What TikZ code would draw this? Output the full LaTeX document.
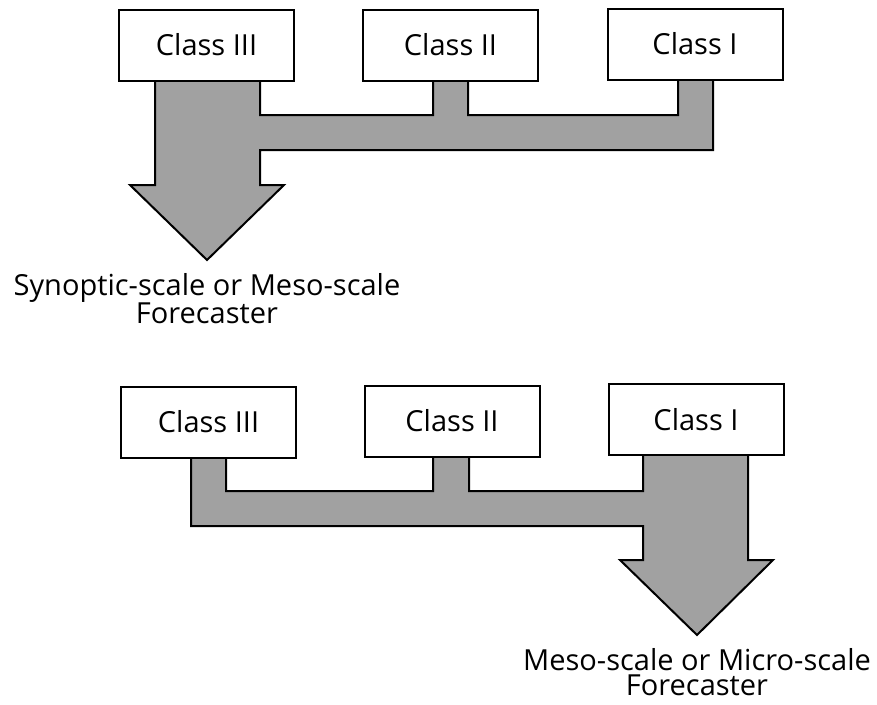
\documentclass[tikz,border=0pt]{standalone}
\usepackage{fontspec}
\setmainfont{Open Sans}
\usepackage{tikz}
\definecolor{gr}{gray}{0.63}
\tikzset{classbox/.style={draw, line width=2pt, fill=white, minimum width=175pt, minimum height=71pt, inner sep=0pt, font=\fontsize{29}{32}\selectfont},
fclabel/.style={align=center, inner sep=0pt, anchor=north, font=\fontsize{29}{25}\selectfont}}

\begin{document}
\begin{tikzpicture}[x=1pt,y=-1pt]
\useasboundingbox (0,0) rectangle (877,704);
% top: everything goes to the Class III side
\draw[fill=gr, line width=2pt, line join=miter] (155,78) -- (260,78) -- (260,115) -- (433,115) -- (433,78) -- (468,78) -- (468,115) -- (678,115) -- (678,78) -- (713,78) -- (713,150) -- (260,150) -- (260,185) -- (284,185) -- (207,260) -- (130,185) -- (155,185) -- cycle;
\foreach \x/\y/\cls/\nm in {206.5/45/III/tA, 450.5/45/II/tB, 695/44/I/tC}{
\node[classbox] (\nm) at (\x,\y) {Class \cls};
}
\node[fclabel] (fcA) at (207,273) {Synoptic-scale or Meso-scale\\Forecaster};
% bottom: everything goes to the Class I side
\draw[fill=gr, line width=2pt, line join=miter] (191,456) -- (226,456) -- (226,491) -- (433,491) -- (433,456) -- (469,456) -- (469,491) -- (643,491) -- (643,454) -- (748,454) -- (748,560) -- (773,560) -- (697,635) -- (620,560) -- (643,560) -- (643,526) -- (191,526) -- cycle;
\foreach \x/\y/\cls/\nm in {208.5/422/III/bA, 452/421/II/bB, 696/419.5/I/bC}{
\node[classbox] (\nm) at (\x,\y) {Class \cls};
}
\node[fclabel] (fcB) at (697,648) {Meso-scale or Micro-scale\\Forecaster};
\end{tikzpicture}
\end{document}
